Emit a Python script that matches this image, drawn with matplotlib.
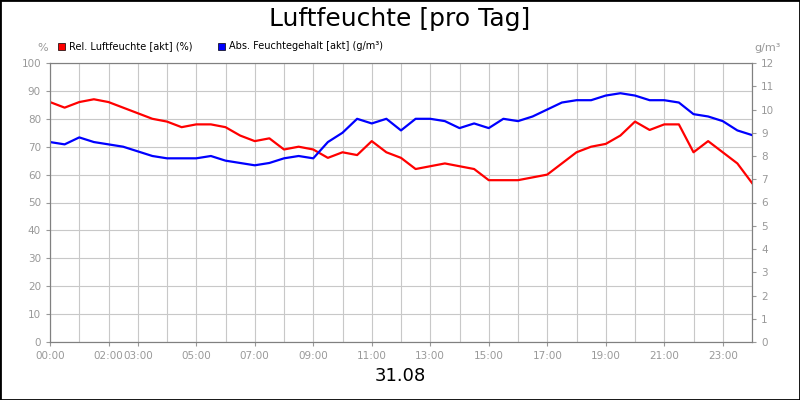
import matplotlib
matplotlib.use('Agg')
import matplotlib.pyplot as plt
import numpy as np

# half-hour samples, 00:00 .. 24:00
hours = np.arange(0, 24.01, 0.5)
rel_hum = [86, 84, 86, 87, 86, 84, 82, 80, 79, 77, 78, 78, 77, 74, 72, 73, 69, 70, 69, 66,
           68, 67, 72, 68, 66, 62, 63, 64, 63, 62, 58, 58, 58, 59, 60, 64, 68, 70, 71, 74,
           79, 76, 78, 78, 68, 72, 68, 64, 57]
abs_hum = [8.6, 8.5, 8.8, 8.6, 8.5, 8.4, 8.2, 8.0, 7.9, 7.9, 7.9, 8.0, 7.8, 7.7, 7.6, 7.7,
           7.9, 8.0, 7.9, 8.6, 9.0, 9.6, 9.4, 9.6, 9.1, 9.6, 9.6, 9.5, 9.2, 9.4, 9.2, 9.6,
           9.5, 9.7, 10.0, 10.3, 10.4, 10.4, 10.6, 10.7, 10.6, 10.4, 10.4, 10.3, 9.8, 9.7,
           9.5, 9.1, 8.9]
tick_hours = [0, 2, 3, 5, 7, 9, 11, 13, 15, 17, 19, 21, 23]
tick_labels = ['%02d:00' % h for h in tick_hours]

GRAY = '#999999'
fig = plt.figure(figsize=(8, 4), dpi=100)
fig.patches.append(plt.Rectangle((0, 0), 1, 1, transform=fig.transFigure,
                                 fill=False, edgecolor='black', linewidth=2))
ax = fig.add_axes([0.0625, 0.145, 0.8775, 0.6975])
ax2 = ax.twinx()

ax.plot(hours, rel_hum, color='#ff0000', linewidth=1.6)
ax2.plot(hours, abs_hum, color='#0000ff', linewidth=1.6)

ax.set_xlim(0, 24)
ax.set_ylim(0, 100)
ax2.set_ylim(0, 12)
ax.set_yticks(np.arange(0, 101, 10))
ax2.set_yticks(np.arange(0, 13, 1))
ax.set_xticks(np.arange(0, 25, 1), minor=True)
ax.set_xticks(tick_hours)
ax.set_xticklabels(tick_labels)
ax.grid(True, which='both', axis='x', color='#c8c8c8', linewidth=0.8)
ax.grid(True, which='major', axis='y', color='#c8c8c8', linewidth=0.8)
ax.set_axisbelow(True)
for a in (ax, ax2):
    a.tick_params(labelsize=7.5, colors=GRAY, length=3)
    for s in a.spines.values():
        s.set_color('#808080')
ax.tick_params(which='minor', length=0)

fig.text(0.5, 0.952, 'Luftfeuchte [pro Tag]', ha='center', va='center', fontsize=18)
fig.text(0.5, 0.06, '31.08', ha='center', va='center', fontsize=13)
fig.text(0.053, 0.88, '%', ha='center', va='center', fontsize=8, color=GRAY)
fig.text(0.96, 0.88, 'g/m³', ha='center', va='center', fontsize=8, color=GRAY)

# legend
fig.patches.append(plt.Rectangle((0.072, 0.875), 0.009, 0.018, transform=fig.transFigure,
                                 facecolor='#ff0000', edgecolor='black', linewidth=0.5))
fig.text(0.086, 0.884, 'Rel. Luftfeuchte [akt] (%)', va='center', fontsize=7)
fig.patches.append(plt.Rectangle((0.272, 0.875), 0.009, 0.018, transform=fig.transFigure,
                                 facecolor='#0000ff', edgecolor='black', linewidth=0.5))
fig.text(0.286, 0.884, 'Abs. Feuchtegehalt [akt] (g/m³)', va='center', fontsize=7)

fig.savefig('out.png', dpi=100)
